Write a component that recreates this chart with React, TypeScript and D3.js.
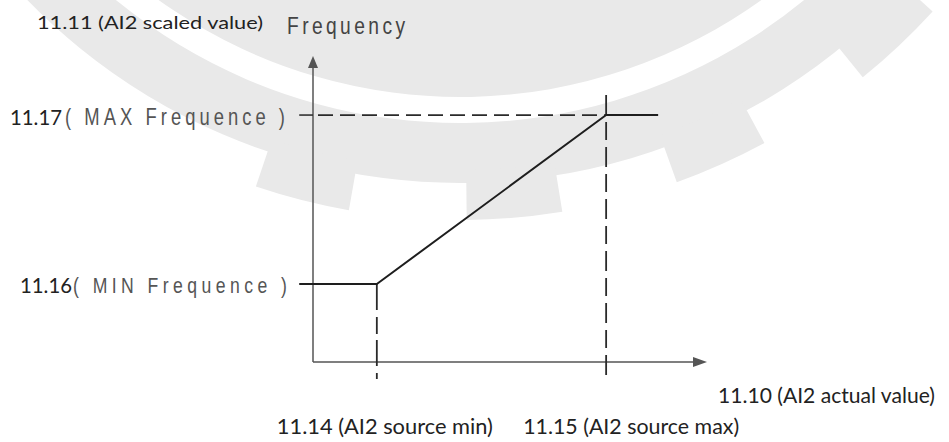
import React from "react";
import * as d3 from "d3";

// ---- data ----
const xTickValues = [16.2, 74.4];
const xTickLabels = ["11.14 (AI2 source min)", "11.15 (AI2 source max)"];
const yTickValues = [25.5, 80.7];
const yTickCodes = ["11.16", "11.17"];
const yTickNames = ["( MIN Frequence )", "( MAX Frequence )"];
const curveX = [-3.5, 16.2, 74.4, 87.6];
const curveY = [25.5, 25.5, 80.7, 80.7];
const xAxisTitle = "11.10 (AI2 actual value)";
const yAxisCode = "11.11 (AI2 scaled value)";
const yAxisTitle = "Frequency";

const W = 949;
const H = 442;

function NarrowText(props: { x: number; y: number; w: number; size: number; fill: string; children: string }) {
  const s = 0.8;
  return (
    <text transform={`translate(${props.x},${props.y}) scale(${s},1)`} x={0} y={0}
      fontFamily="'Liberation Sans', Arial, sans-serif" fontSize={props.size} fill={props.fill}
      textLength={props.w / s} lengthAdjust="spacing" xmlSpace="preserve">{props.children}</text>
  );
}

export default function App() {
  const x = d3.scaleLinear().domain([0, 100]).range([313, 707]);
  const y = d3.scaleLinear().domain([0, 100]).range([362, 56]);

  const pts = curveX.map((v, i) => [x(v), y(curveY[i])] as [number, number]);
  const line = d3.line<[number, number]>()(pts) as string;

  // watermark gear
  const gcx = 460, gcy = -420;
  const arc = d3.arc<any>();
  const toD3 = (deg: number) => Math.PI - (deg * Math.PI) / 180;
  const ring = (ri: number, ro: number, a0: number, a1: number) =>
    arc({ innerRadius: ri, outerRadius: ro, startAngle: toD3(a1), endAngle: toD3(a0) } as any) as string;
  const teeth = d3.range(-1, 4).map((k) => {
    const c = 4.9 + 19.2 * k;
    return arc({ innerRadius: 590, outerRadius: 640, startAngle: toD3(c + 4.3), endAngle: toD3(c - 4.3) } as any) as string;
  });

  const axisColor = "#555";
  const calibri = "Lato, 'Open Sans', sans-serif";

  const x0 = x(0), y0 = y(0);
  const xEnd = x(100), yEnd = y(100);

  return (
    <svg width={W} height={H} style={{ position: "absolute", left: 0, top: 0, background: "#fff" }}>
      <g transform={`translate(${gcx},${gcy})`} fill="#e9e9e9">
        <path d={ring(420, 517, -60, 80)} />
        <path d={ring(543, 603, -47, 80)} />
        {teeth.map((d, i) => <path key={i} d={d} />)}
      </g>

      {/* axes */}
      <line x1={x0} y1={y0} x2={x0} y2={yEnd + 6} stroke={axisColor} strokeWidth={1.5} />
      <line x1={x0} y1={y0} x2={xEnd - 6} y2={y0} stroke={axisColor} strokeWidth={1.5} />
      <path d={`M${x0},${yEnd} L${x0 - 5},${yEnd + 12} L${x0 + 5},${yEnd + 12} Z`} fill={axisColor} />
      <path d={`M${xEnd},${y0} L${xEnd - 14},${y0 - 5} L${xEnd - 14},${y0 + 5} Z`} fill={axisColor} />

      {/* guide lines */}
      <line x1={x(-3.5)} y1={y(yTickValues[1])} x2={x0} y2={y(yTickValues[1])} stroke="#333" strokeWidth={1.6} />
      <line x1={x0 + 5} y1={y(yTickValues[1])} x2={x(xTickValues[1])} y2={y(yTickValues[1])}
        stroke="#2a2a2a" strokeWidth={1.8} strokeDasharray="15 7" />
      <line x1={x(xTickValues[1])} y1={y(yTickValues[1]) - 20} x2={x(xTickValues[1])} y2={y0 + 16}
        stroke="#2a2a2a" strokeWidth={1.8} strokeDasharray="20 7 18 7" />
      <line x1={x(xTickValues[0])} y1={y(yTickValues[0])} x2={x(xTickValues[0])} y2={y0 + 17}
        stroke="#2a2a2a" strokeWidth={1.8} strokeDasharray="26 7 17 6" />

      {/* curve */}
      <path d={line} fill="none" stroke="#1e1e1e" strokeWidth={2} strokeLinejoin="round" />

      {/* y tick labels */}
      {yTickValues.map((v, i) => {
        const isMax = i === 1;
        const by = y(v) + (isMax ? 10 : 9);
        return (
          <g key={i}>
            <text x={isMax ? 10 : 20} y={by} fontFamily={calibri} fontSize={isMax ? 22 : 21} fill="#222"
              textLength={52} lengthAdjust="spacingAndGlyphs">{yTickCodes[i]}</text>
            <NarrowText x={isMax ? 65 : 73} y={by} size={isMax ? 23 : 22} fill="#555" w={isMax ? 220 : 214}>
              {yTickNames[i]}
            </NarrowText>
          </g>
        );
      })}

      {/* x tick labels */}
      {xTickValues.map((v, i) => (
        <text key={i} x={x(v) + (i === 0 ? -100 : -83)} y={434} fontFamily={calibri} fontSize={22} fill="#222"
          textLength={216} lengthAdjust="spacingAndGlyphs">{xTickLabels[i]}</text>
      ))}

      {/* axis titles */}
      <text x={718} y={403} fontFamily={calibri} fontSize={21} fill="#222" textLength={217}
        lengthAdjust="spacingAndGlyphs">{xAxisTitle}</text>
      <text x={37} y={29} fontFamily={calibri} fontSize={18} fill="#222" textLength={226}
        lengthAdjust="spacingAndGlyphs">{yAxisCode}</text>
      <NarrowText x={287} y={33.5} size={24} fill="#444" w={118}>{yAxisTitle}</NarrowText>
    </svg>
  );
}
